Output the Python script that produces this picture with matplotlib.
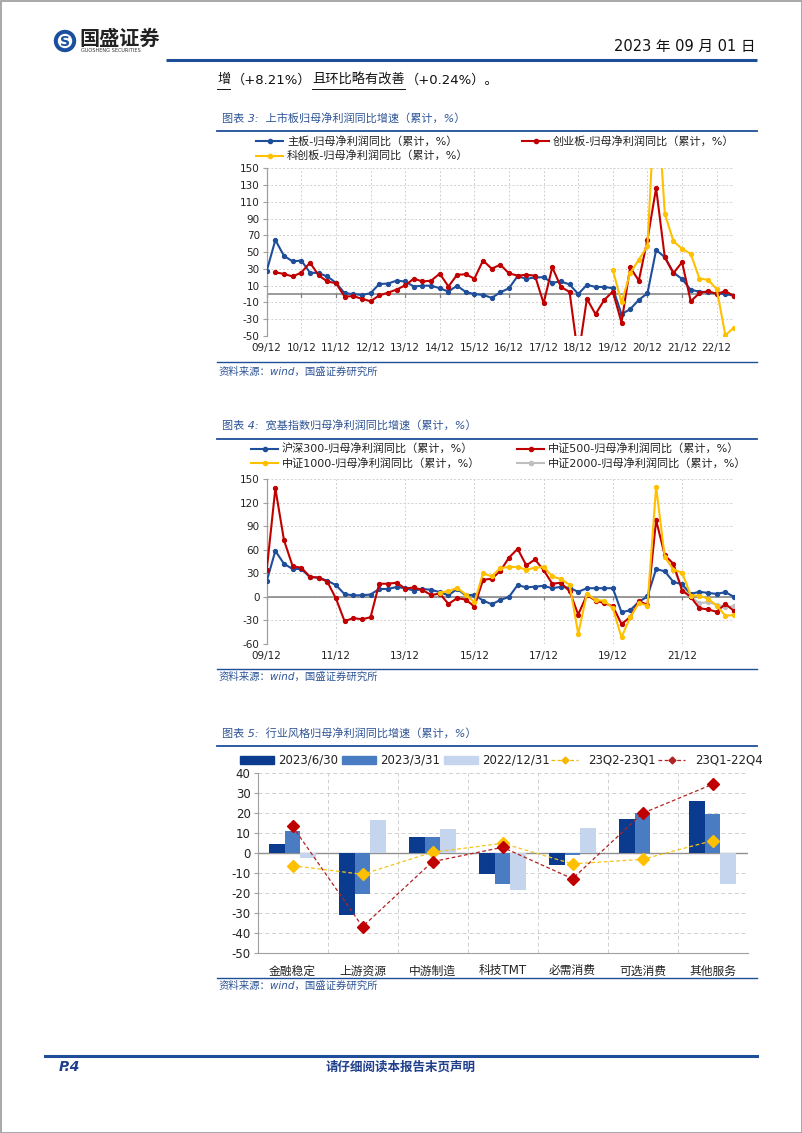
import numpy as np
import matplotlib
matplotlib.use("Agg")
import matplotlib.pyplot as plt
from matplotlib.patches import Circle, Rectangle
from matplotlib.lines import Line2D

plt.rcParams['font.family'] = ['DejaVu Sans', 'Noto Sans CJK SC']
plt.rcParams['axes.unicode_minus'] = False

nan = np.nan
# ---------------- data: chart 3 (上市板) ----------------
q_idx3 = np.arange(55)
years3 = ['09/12', '10/12', '11/12', '12/12', '13/12', '14/12', '15/12', '16/12',
          '17/12', '18/12', '19/12', '20/12', '21/12', '22/12']
main_board = [27.5, 64.5, 45.5, 39, 40, 25.6, 25, 21, 13.6, 1, 0, -1, 1, 12, 12.5, 16,
              15, 9, 10, 10, 7, 3, 10, 2.5, 0, -1, -4.5, 2, 7, 21.5, 18, 20,
              20, 13.6, 15, 11.5, 0, 11, 8.5, 8.5, 7, -24, -18, -7, 1, 52.6, 44, 25.6,
              18, 5, 3, 2, 1, 0, -2]
chinext = [nan, 26, 24, 21, 25.6, 37.5, 22.4, 15, 13, -3, -2.4, -5.6, -8.6, -1.6, 1.6, 5.3,
           10.4, 18.4, 15, 16, 24.4, 9, 23, 23.6, 18.4, 40, 30.3, 35, 24.7, 22, 23, 22,
           -11, 32, 8.5, 2.5, -75, -5.6, -24, -7, 3, -34, 32, 16, 65, 126.5, 44, 25,
           38, -8.6, 1, 3.6, 0, 3.6, -2.4]
star = [nan] * 40 + [28.7, -10, 25, 41, 57, 260, 96, 63, 54, 48, 18.5, 17, 6, -49, -40]

# ---------------- data: chart 4 (宽基指数) ----------------
years4 = ['09/12', '11/12', '13/12', '15/12', '17/12', '19/12', '21/12']
hs300 = [20, 58.5, 42, 35.5, 35.5, 25, 24.5, 20.5, 15, 3.4, 2, 2, 3, 10, 10, 12.5,
         11, 8, 10, 9, 6, 2, 10, 2, 2.5, -4.7, -9.4, -4, 0, 15, 12, 13,
         14, 11, 12.8, 11.5, 6.4, 11, 11, 11, 11, -19.6, -17, -6.4, 0.5, 35.4, 32.5, 19,
         16, 3.8, 6.4, 5, 3.8, 6, 0]
zz500 = [34, 138, 72, 39, 37, 25.7, 24.4, 19.4, -2, -31, -27, -28.5, -26, 16.7, 16.7, 18,
         10.6, 12, 8.5, 2.5, 4, -9, -1.7, -3.4, -12.4, 21.7, 23, 33, 50, 61, 40, 47.6,
         34, 16.7, 18, 7, -22.5, 2.5, -4.7, -8, -12, -34.5, -26, -5.5, -10, 97.6, 53, 42,
         8, 0, -14.5, -16, -19, -9, -18]
zz1000 = [nan] * 20 + [5.5, 7, 11.5, 3, -7, 30, 26, 36.7, 38, 38, 34.6, 37,
                       38, 26, 22.6, 15.4, -47, 4, -4, -5, -14.5, -51.5, -26, -8, -11, 140, 50.7, 34.6,
                       31, 1.7, 1.7, -2.5, -11, -24, -23]
zz2000 = [nan] * 47 + [36, 12.4, 0, -8, -6.7, -10, -13, -12]

# ---------------- data: chart 5 (行业风格) ----------------
cats5 = ['金融稳定', '上游资源', '中游制造', '科技TMT', '必需消费', '可选消费', '其他服务']
s_230630 = [4.8, -31, 8.3, -10.5, -6, 17, 26]
s_230331 = [11, -20.5, 8, -15.5, -0.6, 20, 19.5]
s_221231 = [-2.5, 16.5, 12, -18.5, 12.5, 0.2, -15.3]
d_q2q1 = [-6.2, -10.5, 0.5, 5, -5.3, -3, 6.3]
d_q1q4 = [13.5, -36.7, -4.2, 3, -12.7, 20, 34.5]
labels5 = ['2023/6/30', '2023/3/31', '2022/12/31', '23Q2-23Q1', '23Q1-22Q4']

# ---------------- styling ----------------
W, H = 802, 1133
BLUE = '#1F4E99'
NAVY = '#1F3F8C'
TXTBLUE = '#2F5597'
C_BLUE = '#1F4E9A'
C_RED = '#C00000'
C_YEL = '#FFC000'
C_GRAY = '#BFBFBF'
GRID = '#D0D0D0'

fig = plt.figure(figsize=(W / 100, H / 100), dpi=100)
page = fig.add_axes([0, 0, 1, 1])
page.set_xlim(0, W)
page.set_ylim(H, 0)
page.axis('off')


def add_ax(l, t, r, b):
    return fig.add_axes([l / W, 1 - b / H, (r - l) / W, (b - t) / H])


# page border
page.add_patch(Rectangle((0.5, 0.5), W - 1, H - 1, fill=False, ec='#9A9A9A', lw=1.2))

# ---------------- header ----------------
page.add_patch(Circle((65, 41), 10.5, color='#1A4FA0'))
page.add_patch(Circle((65, 41), 6.5, color='white'))
page.text(65, 41.5, 'S', color='#1A4FA0', fontsize=10, fontweight='bold',
          ha='center', va='center')
page.text(79, 38, '国盛证券', fontsize=14.5, fontweight='bold', color='#222222',
          family=['Noto Sans CJK SC'], va='center', ha='left')
page.text(81, 50.5, 'GUOSHENG SECURITIES', fontsize=3.6, color='#333333',
          va='center', ha='left')
page.text(755, 46, '2023 年 09 月 01 日', fontsize=10.5, color='#111111',
          ha='right', va='center', family=['DejaVu Sans', 'Noto Sans CJK SC'])
page.plot([166, 757], [60, 60], color=BLUE, lw=2.2, solid_capstyle='butt')

page.text(217, 80, '增', fontsize=9.5, color='#111111', va='center', ha='left')
page.text(232, 80, '（+8.21%）', fontsize=9.5, color='#111111', va='center', ha='left')
page.text(312, 80, '且环比略有改善', fontsize=9.5, color='#111111', va='center', ha='left')
page.text(406, 80, '（+0.24%）。', fontsize=9.5, color='#111111', va='center', ha='left')
page.plot([217, 230], [89, 89], color='#111111', lw=0.7)
page.plot([312, 405], [89, 89], color='#111111', lw=0.7)


def section(title, y_title, y_line, y_src_line=None, y_src=None):
    page.text(222, y_title, title, fontsize=8, color=TXTBLUE, style='italic',
              va='center', ha='left')
    page.plot([217, 757], [y_line, y_line], color=BLUE, lw=1.3)
    if y_src_line is not None:
        page.plot([217, 757], [y_src_line, y_src_line], color=BLUE, lw=1.0)
        page.text(219, y_src, '资料来源：wind，国盛证券研究所', fontsize=7.5,
                  color=TXTBLUE, style='italic', va='center', ha='left')


def legend_line(x0, y, color, label, dashed=False, marker='o', ms=3, lw=1.5, tx=None, fs=8):
    ls = (0, (3, 2)) if dashed else '-'
    page.add_line(Line2D([x0, x0 + 27], [y, y], color=color, lw=lw, ls=ls))
    page.add_line(Line2D([x0 + 13.5], [y], color=color, marker=marker, ms=ms, lw=0))
    page.text(tx if tx is not None else x0 + 31, y, label, fontsize=fs, color='#222222',
              va='center', ha='left')


# ---------------- chart 3 ----------------
section('图表 3:  上市板归母净利润同比增速（累计，%）', 118, 130.5, 362, 372)
legend_line(256, 141, C_BLUE, '主板-归母净利润同比（累计，%）')
legend_line(522, 141, C_RED, '创业板-归母净利润同比（累计，%）')
legend_line(256, 155.5, C_YEL, '科创板-归母净利润同比（累计，%）')


def style_line_axes(ax, ylim, yticks, xticks, xlabels, fs=7.5):
    ax.set_xlim(0, 54)
    ax.set_ylim(*ylim)
    ax.set_yticks(yticks)
    ax.set_yticklabels([str(v) for v in yticks], fontsize=fs, color='#222222')
    ax.set_xticks(xticks)
    ax.set_xticklabels(xlabels, fontsize=fs, color='#222222')
    ax.grid(True, color=GRID, ls=(0, (2, 2)), lw=0.7)
    ax.set_axisbelow(True)
    for s in ['top', 'right', 'bottom']:
        ax.spines[s].set_visible(False)
    ax.spines['left'].set_color('#A0A0A0')
    ax.spines['left'].set_linewidth(0.9)
    ax.tick_params(axis='y', length=3, color='#A0A0A0', pad=2)
    ax.tick_params(axis='x', length=0, pad=5)
    ax.axhline(0, color='#808080', lw=1.1, zorder=2)
    for xt in xticks:
        ax.plot([xt, xt], [0, -(ylim[1] - ylim[0]) * 0.015], color='#808080', lw=0.9,
                zorder=2, clip_on=False)


ax3 = add_ax(266.7, 168.3, 734, 336)
style_line_axes(ax3, (-50, 150), list(range(150, -51, -20))[::-1], list(range(0, 53, 4)), years3)
for ser, col in [(main_board, C_BLUE), (chinext, C_RED), (star, C_YEL)]:
    ax3.plot(q_idx3, ser, color=col, lw=1.5, marker='o', ms=2.8, zorder=3)
ax3.set_ylim(-50, 150)

# ---------------- chart 4 ----------------
section('图表 4:  宽基指数归母净利润同比增速（累计，%）', 426.5, 438.5, 669, 677)
legend_line(251, 448.5, C_BLUE, '沪深300-归母净利润同比（累计，%）')
legend_line(517, 448.5, C_RED, '中证500-归母净利润同比（累计，%）')
legend_line(251, 463, C_YEL, '中证1000-归母净利润同比（累计，%）')
legend_line(517, 463, C_GRAY, '中证2000-归母净利润同比（累计，%）')

ax4 = add_ax(266.7, 479, 734, 644)
style_line_axes(ax4, (-60, 150), list(range(-60, 151, 30)), list(range(0, 49, 8)), years4)
for ser, col in [(zz2000, C_GRAY), (hs300, C_BLUE), (zz500, C_RED), (zz1000, C_YEL)]:
    ax4.plot(q_idx3, ser, color=col, lw=1.5, marker='o', ms=2.8, zorder=3)
ax4.set_ylim(-60, 150)

# ---------------- chart 5 ----------------
section('图表 5:  行业风格归母净利润同比增速（累计，%）', 733.5, 745.5, 978, 986)
bar_cols = ['#0B3B8F', '#4A7CC4', '#C5D5EE']
lx = [240, 342, 444]
for x0, c, lab in zip(lx, bar_cols, labels5[:3]):
    page.add_patch(Rectangle((x0, 756), 34, 8, color=c))
    page.text(x0 + 38, 760, lab, fontsize=8.5, color='#222222', va='center', ha='left')
legend_line(551, 760, '#F5B800', labels5[3], dashed=True, marker='D', ms=3.5, lw=0.9, tx=588, fs=8.5)
legend_line(658, 760, '#B22222', labels5[4], dashed=True, marker='D', ms=3.5, lw=0.9, tx=695, fs=8.5)

ax5 = add_ax(257.5, 773.3, 747.5, 953.3)
x5 = np.arange(len(cats5))
bw = 0.225
ax5.bar(x5 - bw, s_230630, bw, color=bar_cols[0], zorder=3)
ax5.bar(x5, s_230331, bw, color=bar_cols[1], zorder=3)
ax5.bar(x5 + bw, s_221231, bw, color=bar_cols[2], zorder=3)
ax5.plot(x5, d_q2q1, color='#F5C518', ls=(0, (3, 2)), lw=0.9, marker='D', ms=6.5,
         mfc=C_YEL, mec=C_YEL, zorder=4)
ax5.plot(x5, d_q1q4, color='#B22222', ls=(0, (3, 2)), lw=0.9, marker='D', ms=6.5,
         mfc=C_RED, mec=C_RED, zorder=5)
ax5.set_xlim(-0.5, len(cats5) - 0.5)
ax5.set_ylim(-50, 40)
ax5.set_yticks(range(-50, 41, 10))
ax5.set_yticklabels([str(v) for v in range(-50, 41, 10)], fontsize=8.5, color='#222222')
ax5.set_xticks(x5)
ax5.set_xticklabels(cats5, fontsize=8.5, color='#222222')
ax5.tick_params(axis='x', length=0, pad=8)
ax5.tick_params(axis='y', length=3, color='#A0A0A0', pad=2)
ax5.yaxis.grid(True, color=GRID, ls=(0, (4, 3)), lw=0.7)
for xb in np.arange(0.5, len(cats5) - 0.5, 1):
    ax5.axvline(xb, color=GRID, ls=(0, (4, 3)), lw=0.7, zorder=1)
ax5.axvline(len(cats5) - 0.5, color=GRID, ls=(0, (4, 3)), lw=0.7, zorder=1)
ax5.set_axisbelow(True)
for s in ['top', 'right']:
    ax5.spines[s].set_visible(False)
ax5.spines['left'].set_color('#A0A0A0')
ax5.spines['bottom'].set_color('#A0A0A0')
ax5.axhline(0, color='#909090', lw=1.0, zorder=2)

# ---------------- footer ----------------
page.plot([45, 757], [1056, 1056], color=BLUE, lw=2.2)
page.text(59, 1067, 'P.4', fontsize=10, fontweight='bold', style='italic', color=NAVY,
          va='center', ha='left')
page.text(401, 1067, '请仔细阅读本报告末页声明', fontsize=9, fontweight='bold', color=NAVY,
          va='center', ha='center')

fig.savefig('out.png', dpi=100)
